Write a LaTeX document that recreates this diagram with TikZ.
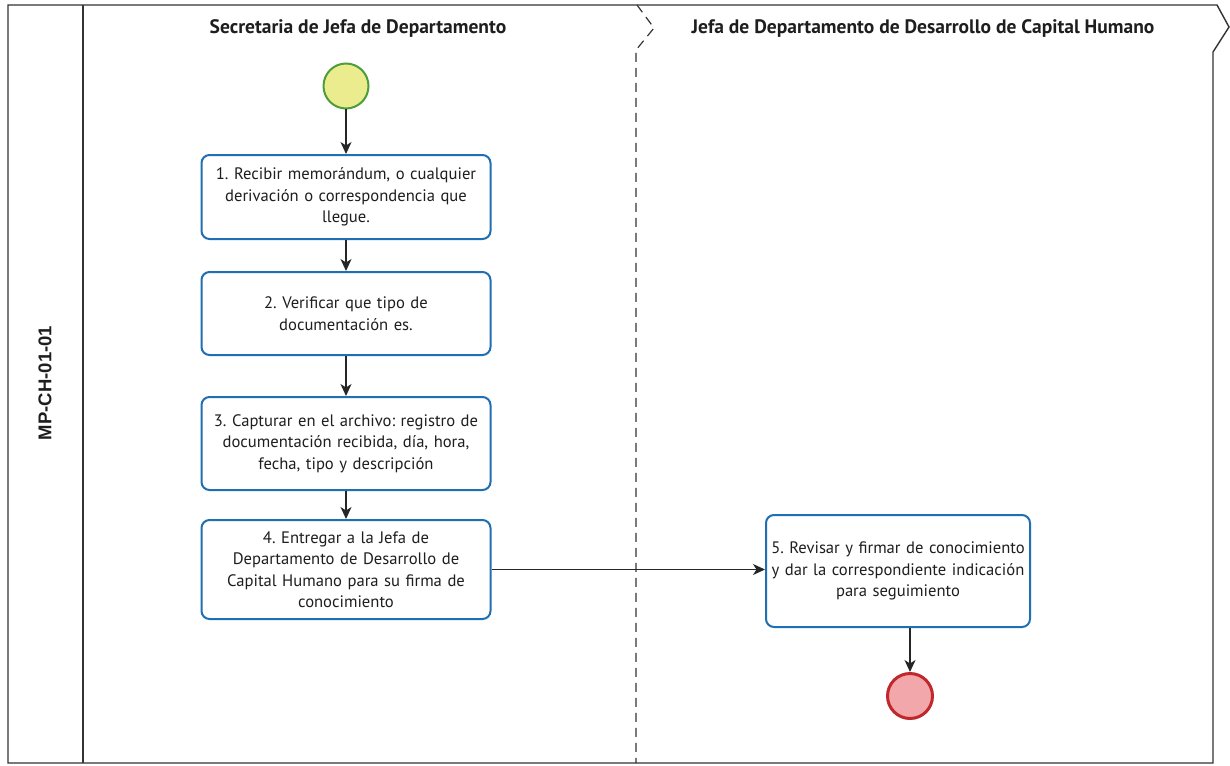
\documentclass[tikz,border=0pt]{standalone}
\usepackage{fontspec}
\setmainfont{PT Sans}
\newfontfamily\labelfont{Liberation Sans}
\usetikzlibrary{arrows.meta}
\definecolor{boxblue}{HTML}{1F6FB2}
\definecolor{startfill}{HTML}{EAEC8E}
\definecolor{startline}{HTML}{4C9E3A}
\definecolor{endfill}{HTML}{F2A7AA}
\definecolor{endline}{HTML}{C0282E}
\definecolor{framegray}{HTML}{333333}
\definecolor{txt}{HTML}{1E1E1E}
\tikzset{
  task/.style={draw=boxblue, line width=2pt, rounded corners=8pt, fill=white,
    minimum width=289pt, text width=286pt, align=center, inner sep=0pt,
    font=\fontsize{16.6}{21.5}\selectfont\frenchspacing, text=txt},
  flow/.style={draw=black!85, line width=1.4pt, -{Stealth[length=12pt,width=11pt,inset=3.5pt]}},
  frame/.style={draw=framegray, line width=1.4pt},
  lanetitle/.style={font=\fontsize{19.5}{22}\selectfont\bfseries, text=txt},
}
\begin{document}
\begin{tikzpicture}[x=1pt,y=-1pt]
\useasboundingbox (0,0) rectangle (1230,765);
\fill[white] (0,0) rectangle (1230,765);
% frame
\draw[frame] (1213,763) -- (1213,52) -- (1229,27) -- (1217,5) -- (8,5) -- (8,763) -- cycle;
\draw[frame] (83,5) -- (83,763);
\draw[draw=framegray, line width=1.2pt, dash pattern=on 9pt off 6pt] (637,5) -- (654,28) -- (636,50) -- (636,763);
% labels
\node[rotate=90, font=\labelfont\bfseries\fontsize{18.5}{20}\selectfont, text=txt] (pool) at (45,383) {MP-CH-01-01};
\node[lanetitle] (lane1) at (358,28) {Secretaria de Jefa de Departamento};
\node[lanetitle] (lane2) at (923,28) {Jefa de Departamento de Desarrollo de Capital Humano};
% events
\node[circle, draw=startline, fill=startfill, line width=2pt, minimum size=45pt, inner sep=0pt] (start) at (346,86) {};
\node[circle, draw=endline, fill=endfill, line width=3pt, minimum size=45pt, inner sep=0pt] (end) at (910,696) {};
% tasks
\node[task, minimum height=84pt] (t1) at (346,197) {1. Recibir memorándum, o cualquier\\derivación o correspondencia que\\llegue.};
\node[task, minimum height=83pt] (t2) at (346,313.5) {2. Verificar que tipo de\\documentación es.};
\node[task, minimum height=93pt] (t3) at (346,443.5) {3. Capturar en el archivo: registro de\\documentación recibida, día, hora,\\fecha, tipo y descripción};
\node[task, minimum height=99pt] (t4) at (346,569.5) {4. Entregar a la Jefa de\\Departamento de Desarrollo de\\Capital Humano para su firma de\\conocimiento};
\node[task, minimum width=264pt, text width=262pt, minimum height=112pt] (t5) at (898,571) {5. Revisar y firmar de conocimiento\\y dar la correspondiente indicación\\para seguimiento};
% flows
\draw[flow] (start) -- (t1);
\draw[flow] (t1) -- (t2);
\draw[flow] (t2) -- (t3);
\draw[flow] (t3) -- (t4);
\draw[flow] (t4.east) -- (t4.east -| t5.west);
\draw[flow] (t5.south -| end) -- (end);
\end{tikzpicture}
\end{document}
